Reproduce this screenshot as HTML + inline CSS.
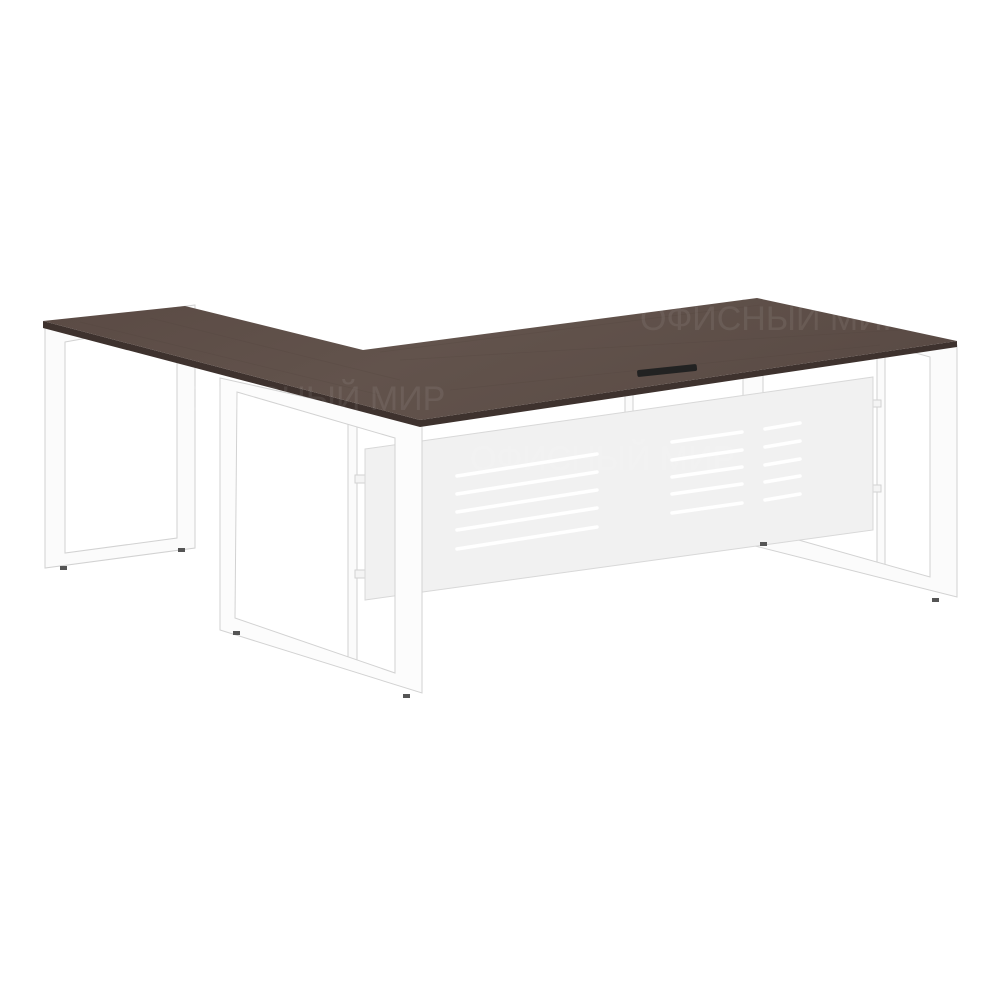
<!DOCTYPE html>
<html><head><meta charset="utf-8"><style>
html,body{margin:0;padding:0;background:#fff;width:1000px;height:1000px;overflow:hidden}
</style></head><body>
<svg width="1000" height="1000" viewBox="0 0 1000 1000" xmlns="http://www.w3.org/2000/svg">
<defs>
<linearGradient id="wood" x1="0" y1="0" x2="1" y2="0.3">
<stop offset="0" stop-color="#5a4a44"/><stop offset="0.5" stop-color="#62534c"/><stop offset="1" stop-color="#5a4b45"/>
</linearGradient>
</defs>
<g stroke="#d2d2d2" stroke-width="1" fill="#fbfbfb">
<rect x="625" y="385" width="8" height="60"/>
<rect x="743" y="370" width="20" height="175"/>
<rect x="348" y="420" width="9" height="245"/>
<rect x="877" y="352" width="8" height="218"/>
<path fill-rule="evenodd" d="M45,325 L195,305 L195,548 L45,568 Z M65,342 L177,322 L177,538 L65,553 Z"/>
<path fill-rule="evenodd" d="M743,300 L957,345 L957,597 L743,543 Z M763,310 L930,357 L930,577 L763,530 Z"/>
</g>
<g fill="#f4f4f4" stroke="#d2d2d2">
<rect x="355" y="475" width="12" height="8"/><rect x="355" y="570" width="12" height="8"/>
<rect x="871" y="400" width="10" height="7"/><rect x="871" y="485" width="10" height="7"/>
</g>
<polygon points="365,449 873,377 873,530 365,600" fill="#f1f1f1" stroke="#d8d8d8"/>
<g stroke="#ffffff" stroke-width="3.5" stroke-linecap="round">
<line x1="457" y1="476" x2="597" y2="454"/>
<line x1="457" y1="494" x2="597" y2="472"/>
<line x1="457" y1="512" x2="597" y2="490"/>
<line x1="457" y1="530" x2="597" y2="508"/>
<line x1="457" y1="549" x2="597" y2="527"/>
<line x1="672" y1="442" x2="742" y2="432"/>
<line x1="672" y1="460" x2="742" y2="450"/>
<line x1="672" y1="477" x2="742" y2="467"/>
<line x1="672" y1="494" x2="742" y2="484"/>
<line x1="672" y1="513" x2="742" y2="503"/>
<line x1="765" y1="429" x2="800" y2="423"/>
<line x1="765" y1="447" x2="800" y2="441"/>
<line x1="765" y1="465" x2="800" y2="459"/>
<line x1="765" y1="482" x2="800" y2="476"/>
<line x1="765" y1="500" x2="800" y2="494"/>
</g>
<path fill-rule="evenodd" fill="#fcfcfc" stroke="#d2d2d2" d="M220,378 L422,423 L422,693 L220,630 Z M237,392 L395,438 L395,673 L235,618 Z"/>
<g fill="#555">
<rect x="60" y="566" width="7" height="4"/><rect x="178" y="548" width="7" height="4"/>
<rect x="233" y="631" width="7" height="4"/><rect x="403" y="694" width="7" height="4"/>
<rect x="760" y="542" width="7" height="4"/><rect x="932" y="598" width="7" height="4"/>
</g>
<polygon points="43,321 420,420 957,341 957,347 420,427 43,328" fill="#3e322e"/>
<polygon points="43,321 185,306 363,350 757,298 957,341 420,420" fill="url(#wood)"/>
<g stroke="#4e403a" stroke-width="0.8" opacity="0.2">
<line x1="80" y1="322" x2="380" y2="395"/><line x1="150" y1="318" x2="400" y2="380"/>
<line x1="400" y1="360" x2="900" y2="330"/><line x1="450" y1="390" x2="880" y2="345"/>
<line x1="380" y1="352" x2="760" y2="305"/>
</g>
<rect x="637" y="367" width="60" height="7" rx="2" fill="#222" transform="rotate(-6 667 370)"/>
<g font-family="Liberation Sans, DejaVu Sans, sans-serif" font-size="34" fill="#fff" opacity="0.07">
<text x="640" y="330">ОФИСНЫЙ МИР</text>
<text x="180" y="410">ОФИСНЫЙ МИР</text>
<text x="470" y="470">ОФИСНЫЙ МИР</text>
</g>
</svg>
</body></html>
